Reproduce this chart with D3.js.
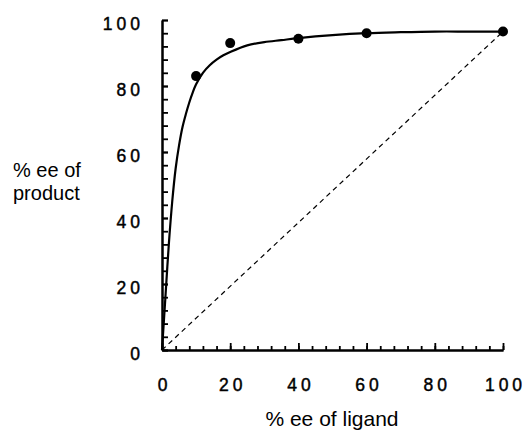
<!DOCTYPE html>
<html>
<head>
  <meta charset="utf-8">
  <title>% ee of product vs % ee of ligand</title>
  <script src="https://d3js.org/d3.v7.min.js"></script>
  <style>
    body { margin: 0; background: #fff; }
    text { font-family: "Liberation Sans", Arial, sans-serif; fill: #000; }
    .tick text { font-size: 17.5px; letter-spacing: 4px; stroke: #000; stroke-width: 0.45px; }
    .domain { stroke: #000; stroke-width: 2; }
    .tick line { stroke: #000; stroke-width: 1.8; }
  </style>
</head>
<body>
<div id="chart"></div>
<script>
// measured points
var ligandEe = [10, 20, 40, 60, 100];
var productEe = [83, 93, 94.3, 96, 96.5];

// fitted curve
var curveX = [0, 0.5, 1, 2, 3, 4, 5, 6, 7, 8, 9, 10, 12, 14, 16, 18, 20, 25, 30, 35, 40, 50, 60, 70, 80, 90, 100];
var curveY = [0, 8, 16, 32, 45, 55, 62, 67.5, 71.5, 75, 78, 80.5, 84, 86.3, 88, 89.3, 90.3, 92.3, 93.3, 93.9, 94.5, 95.4, 96, 96.3, 96.5, 96.5, 96.5];

// dashed reference line
var diagX = [0, 100];
var diagY = [0, 96.5];

var majorTicks = [0, 20, 40, 60, 80, 100];
var minorTicks = d3.range(0, 101, 4);

var W = 525, H = 431;
var x = d3.scaleLinear().domain([0, 100]).range([162, 503]);
var y = d3.scaleLinear().domain([0, 100]).range([350, 20]);

var svg = d3.select("#chart").append("svg")
    .attr("width", W)
    .attr("height", H);

// x axis: minor then major ticks, both pointing into the plot
svg.append("g")
    .attr("transform", "translate(0," + y(0) + ")")
    .call(d3.axisBottom(x).tickValues(minorTicks).tickSizeInner(-4).tickSizeOuter(0).tickFormat(""));

var xAxis = svg.append("g")
    .attr("transform", "translate(0," + y(0) + ")")
    .call(d3.axisBottom(x).tickValues(majorTicks).tickSizeInner(-7).tickSizeOuter(0).tickPadding(29));
xAxis.selectAll(".tick text").attr("dx", "2px");

// y axis
svg.append("g")
    .attr("transform", "translate(" + x(0) + ",0)")
    .call(d3.axisLeft(y).tickValues(minorTicks).tickSizeInner(-6).tickSizeOuter(0).tickFormat(""));

var yAxis = svg.append("g")
    .attr("transform", "translate(" + x(0) + ",0)")
    .call(d3.axisLeft(y).tickValues(majorTicks).tickSizeInner(-6).tickSizeOuter(0).tickPadding(18));
yAxis.selectAll(".tick text").attr("dy", "0.55em");

// dashed line
svg.append("path")
    .datum(d3.zip(diagX, diagY))
    .attr("fill", "none")
    .attr("stroke", "#000")
    .attr("stroke-width", 1.2)
    .attr("stroke-dasharray", "5,4")
    .attr("d", d3.line().x(function(d) { return x(d[0]); }).y(function(d) { return y(d[1]); }));

// fitted curve
svg.append("path")
    .datum(d3.zip(curveX, curveY))
    .attr("fill", "none")
    .attr("stroke", "#000")
    .attr("stroke-width", 2.2)
    .attr("d", d3.line().curve(d3.curveCatmullRom.alpha(0.5))
      .x(function(d) { return x(d[0]); }).y(function(d) { return y(d[1]); }));

// points
svg.selectAll("circle")
    .data(d3.zip(ligandEe, productEe))
    .enter()
    .append("circle")
    .attr("cx", function(d) { return x(d[0]); })
    .attr("cy", function(d) { return y(d[1]); })
    .attr("r", 5)
    .attr("fill", "#000");

// axis titles
svg.append("text")
    .attr("x", 332)
    .attr("y", 426)
    .attr("text-anchor", "middle")
    .style("font-size", "21px")
    .text("% ee of ligand");

var yt = svg.append("text")
    .attr("x", 13)
    .style("font-size", "20px");
yt.append("tspan").attr("x", 13).attr("y", 177).text("% ee of");
yt.append("tspan").attr("x", 13).attr("y", 200).text("product");
</script>
</body>
</html>
